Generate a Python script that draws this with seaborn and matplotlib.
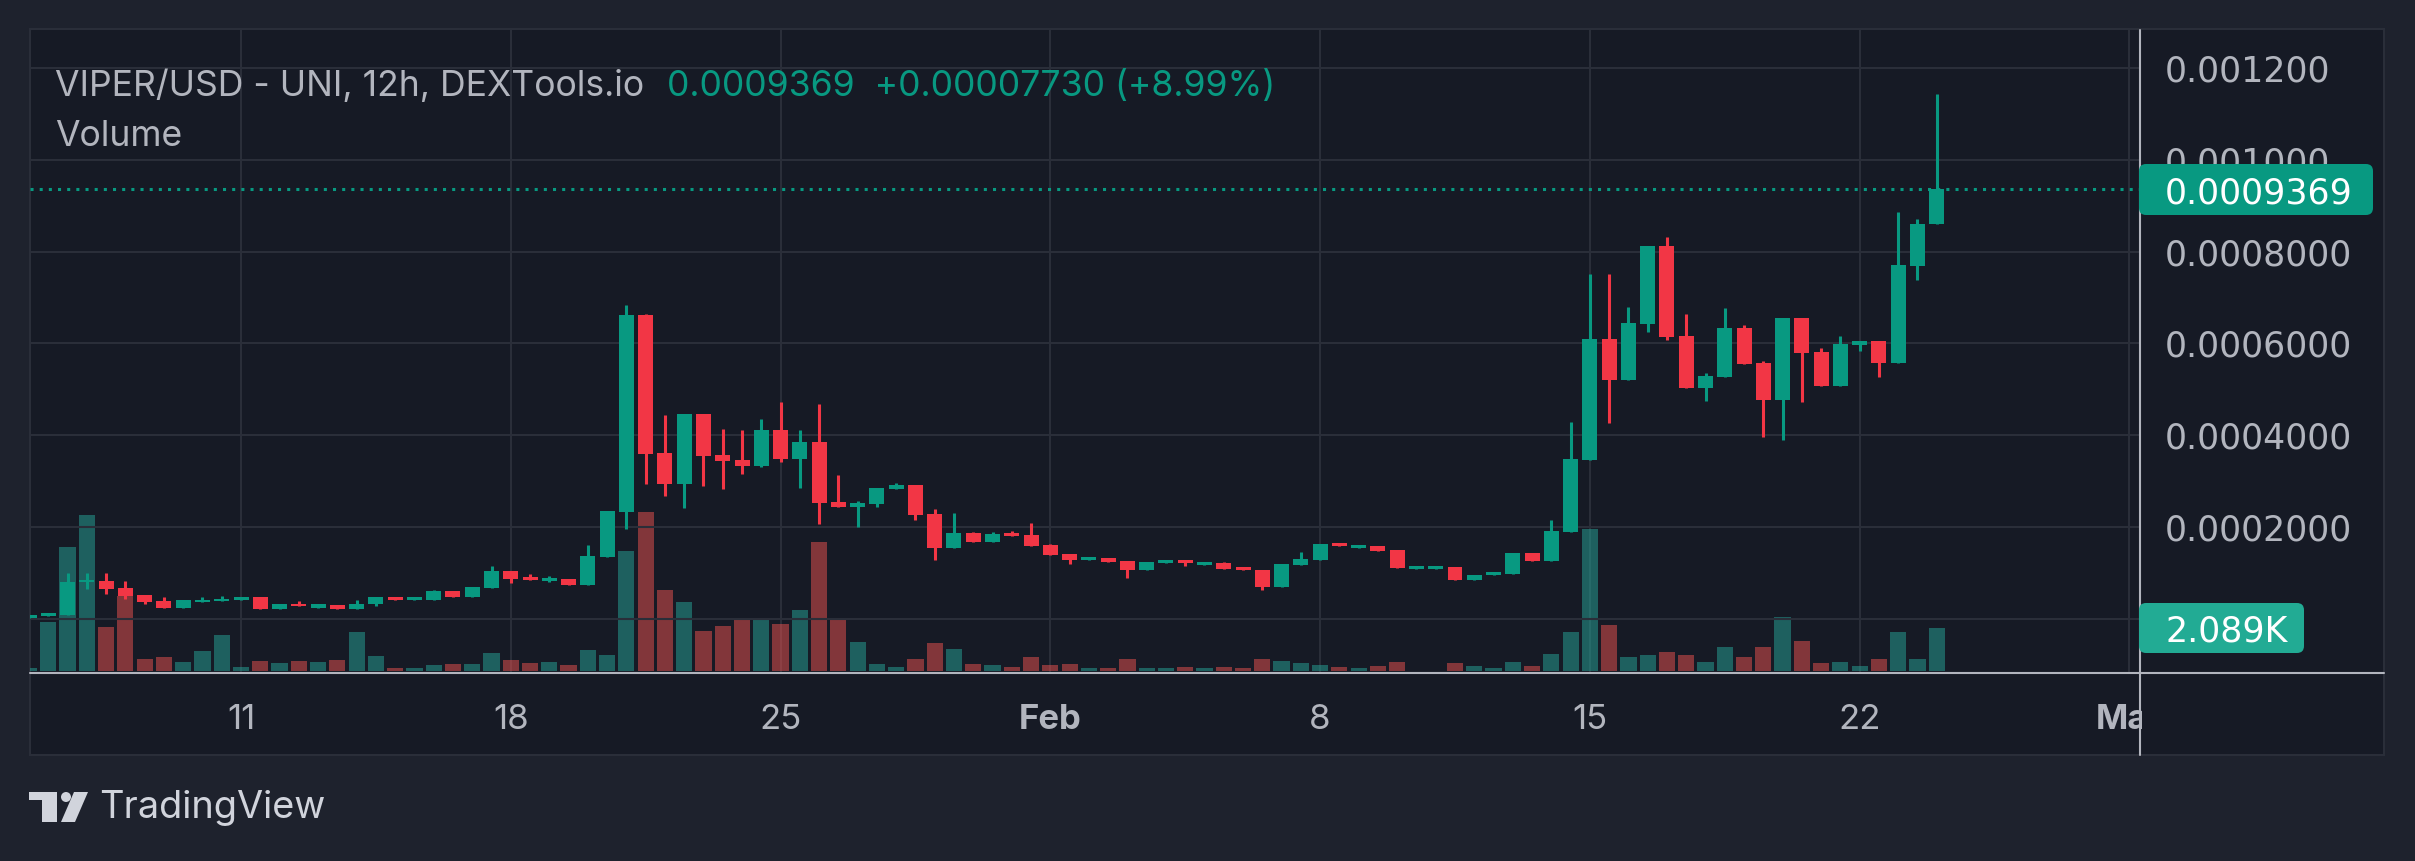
import numpy as np
import pandas as pd
import matplotlib
matplotlib.use("Agg")
import matplotlib.pyplot as plt
import matplotlib.dates as mdates
from matplotlib.patches import Rectangle, FancyBboxPatch, Polygon, Circle
from matplotlib.lines import Line2D
from matplotlib.transforms import IdentityTransform
import seaborn as sns

# ---------------- data (12h candles, VIPER/USD) ----------------
first_candle = "2021-01-05 12:00"
n_candles = 100
opens = [0.0000007, 0.0000051, 0.0000072, 0.0000797, 0.0000833, 0.0000681, 0.0000529, 0.0000377, 0.0000246, 0.0000355,
         0.0000377, 0.0000420, 0.0000464, 0.0000203, 0.0000333, 0.0000246, 0.0000290, 0.0000203, 0.0000312, 0.0000485,
         0.0000399, 0.0000420, 0.0000616, 0.0000485, 0.0000681, 0.0001051, 0.0000920, 0.0000833, 0.0000877, 0.0000746,
         0.0001355, 0.0002333, 0.0006616, 0.0003616, 0.0002942, 0.0004464, 0.0003572, 0.0003464, 0.0003333, 0.0004116,
         0.0003485, 0.0003855, 0.0002551, 0.0002442, 0.0002507, 0.0002833, 0.0002920, 0.0002290, 0.0001551, 0.0001877,
         0.0001681, 0.0001877, 0.0001833, 0.0001616, 0.0001420, 0.0001290, 0.0001333, 0.0001268, 0.0001072, 0.0001225,
         0.0001290, 0.0001181, 0.0001225, 0.0001138, 0.0001072, 0.0000703, 0.0001181, 0.0001290, 0.0001659, 0.0001551,
         0.0001594, 0.0001507, 0.0001094, 0.0001094, 0.0001138, 0.0000850, 0.0000950, 0.0000975, 0.0001433, 0.0001258,
         0.0001892, 0.0003458, 0.0006092, 0.0005200, 0.0006417, 0.0008117, 0.0006158, 0.0005025, 0.0005267, 0.0006333,
         0.0005567, 0.0004767, 0.0006550, 0.0005808, 0.0005067, 0.0005967, 0.0006050, 0.0005567, 0.0007683, 0.0008596]
highs = [0.0000072, 0.0000116, 0.0001007, 0.0001007, 0.0001007, 0.0000833, 0.0000529, 0.0000464, 0.0000399, 0.0000485,
         0.0000507, 0.0000485, 0.0000485, 0.0000312, 0.0000377, 0.0000312, 0.0000290, 0.0000399, 0.0000464, 0.0000485,
         0.0000464, 0.0000638, 0.0000616, 0.0000703, 0.0001159, 0.0001051, 0.0000985, 0.0000942, 0.0000877, 0.0001616,
         0.0002355, 0.0006833, 0.0006637, 0.0004442, 0.0004464, 0.0004464, 0.0004137, 0.0004116, 0.0004355, 0.0004724,
         0.0004116, 0.0004681, 0.0003137, 0.0002572, 0.0002855, 0.0002964, 0.0002920, 0.0002398, 0.0002311, 0.0001898,
         0.0001898, 0.0001920, 0.0002094, 0.0001638, 0.0001420, 0.0001355, 0.0001333, 0.0001268, 0.0001246, 0.0001290,
         0.0001290, 0.0001246, 0.0001246, 0.0001138, 0.0001072, 0.0001203, 0.0001464, 0.0001638, 0.0001659, 0.0001616,
         0.0001594, 0.0001507, 0.0001159, 0.0001159, 0.0001138, 0.0000950, 0.0001025, 0.0001433, 0.0001433, 0.0002150,
         0.0004283, 0.0007508, 0.0007508, 0.0006792, 0.0008117, 0.0008317, 0.0006633, 0.0005350, 0.0006767, 0.0006400,
         0.0005617, 0.0006550, 0.0006550, 0.0005900, 0.0006158, 0.0006050, 0.0006050, 0.0008858, 0.0008708, 0.0011425]
lows = [0.0000007, 0.0000051, 0.0000072, 0.0000659, 0.0000551, 0.0000442, 0.0000333, 0.0000246, 0.0000246, 0.0000355,
        0.0000377, 0.0000420, 0.0000203, 0.0000203, 0.0000268, 0.0000246, 0.0000203, 0.0000203, 0.0000268, 0.0000420,
        0.0000399, 0.0000420, 0.0000464, 0.0000485, 0.0000681, 0.0000790, 0.0000855, 0.0000812, 0.0000746, 0.0000746,
        0.0001355, 0.0001964, 0.0002942, 0.0002681, 0.0002420, 0.0002898, 0.0002833, 0.0003159, 0.0003311, 0.0003420,
        0.0002855, 0.0002072, 0.0002442, 0.0002007, 0.0002442, 0.0002833, 0.0002159, 0.0001290, 0.0001551, 0.0001681,
        0.0001681, 0.0001812, 0.0001594, 0.0001399, 0.0001203, 0.0001290, 0.0001246, 0.0000899, 0.0001072, 0.0001225,
        0.0001159, 0.0001181, 0.0001094, 0.0001072, 0.0000638, 0.0000703, 0.0001181, 0.0001290, 0.0001594, 0.0001551,
        0.0001485, 0.0001116, 0.0001094, 0.0001094, 0.0000855, 0.0000850, 0.0000950, 0.0000975, 0.0001258, 0.0001258,
        0.0001892, 0.0003458, 0.0004267, 0.0005200, 0.0006242, 0.0006075, 0.0005025, 0.0004742, 0.0005267, 0.0005550,
        0.0003958, 0.0003892, 0.0004725, 0.0005067, 0.0005067, 0.0005833, 0.0005267, 0.0005567, 0.0007375, 0.0008596]
closes = [0.0000072, 0.0000116, 0.0000812, 0.0000855, 0.0000659, 0.0000507, 0.0000355, 0.0000246, 0.0000399, 0.0000420,
          0.0000442, 0.0000485, 0.0000203, 0.0000312, 0.0000268, 0.0000312, 0.0000203, 0.0000333, 0.0000464, 0.0000420,
          0.0000464, 0.0000616, 0.0000485, 0.0000703, 0.0001051, 0.0000877, 0.0000855, 0.0000899, 0.0000746, 0.0001377,
          0.0002355, 0.0006616, 0.0003594, 0.0002942, 0.0004464, 0.0003551, 0.0003442, 0.0003333, 0.0004116, 0.0003485,
          0.0003855, 0.0002529, 0.0002442, 0.0002529, 0.0002855, 0.0002920, 0.0002268, 0.0001551, 0.0001877, 0.0001681,
          0.0001855, 0.0001812, 0.0001594, 0.0001399, 0.0001290, 0.0001355, 0.0001246, 0.0001072, 0.0001246, 0.0001290,
          0.0001225, 0.0001246, 0.0001094, 0.0001072, 0.0000703, 0.0001203, 0.0001312, 0.0001638, 0.0001594, 0.0001616,
          0.0001485, 0.0001116, 0.0001159, 0.0001159, 0.0000855, 0.0000950, 0.0001025, 0.0001433, 0.0001258, 0.0001908,
          0.0003483, 0.0006092, 0.0005200, 0.0006442, 0.0008117, 0.0006133, 0.0005025, 0.0005283, 0.0006333, 0.0005550,
          0.0004767, 0.0006550, 0.0005792, 0.0005067, 0.0005983, 0.0006050, 0.0005567, 0.0007708, 0.0008596, 0.0009369]
volumes = [146, 2381, 6026, 7582, 2138, 3645, 583, 680, 437, 972,
           1750, 194, 486, 389, 486, 437, 535, 1895, 729, 146,
           146, 292, 340, 340, 875, 535, 389, 437, 292, 1021,
           778, 5832, 7727, 3937, 3353, 1944, 2187, 2576, 2479, 2284,
           2965, 6269, 2527, 1409, 340, 194, 583, 1361, 1069, 340,
           292, 194, 680, 292, 340, 146, 146, 583, 146, 146,
           194, 146, 194, 146, 583, 486, 389, 292, 194, 146,
           243, 437, 0, 0, 389, 223, 167, 446, 223, 837,
           1897, 6919, 2251, 688, 781, 930, 781, 446, 1172, 688,
           1172, 2641, 1469, 391, 446, 223, 595, 1897, 595, 2089]

price_ticks = [0.0002, 0.0004, 0.0006, 0.0008, 0.0010, 0.0012]
price_labels = ["0.0002000", "0.0004000", "0.0006000", "0.0008000", "0.001000", "0.001200"]
grid_prices = [0.0, 0.0002, 0.0004, 0.0006, 0.0008, 0.0010, 0.0012]
date_ticks = ["2021-01-11", "2021-01-18", "2021-01-25", "2021-02-01", "2021-02-08", "2021-02-15", "2021-02-22", "2021-03-01"]
date_labels = ["11", "18", "25", "Feb", "8", "15", "22", "Mar"]
title = "VIPER/USD - UNI, 12h, DEXTools.io"
quote = "0.0009369  +0.00007730 (+8.99%)"
last_price_label = "0.0009369"
last_volume_label = "2.089K"

# ---------------- style ----------------
W, H = 2415, 861
BG = "#1e222d"
PANEL = "#161a25"
GRID = "#2a2e39"
TXT = "#b2b5be"
AXL = "#b2b5be"
UP = "#089981"
DN = "#f23645"
VUP = "#26a69a"
VDN = "#ef5350"
FS = 25
FS_TITLE = 25.6

sns.set_theme(style="dark", rc={"axes.facecolor": PANEL, "figure.facecolor": BG,
                                "axes.edgecolor": PANEL, "grid.color": GRID,
                                "text.color": TXT, "xtick.color": TXT, "ytick.color": TXT})
plt.rcParams["font.family"] = ["Inter", "DejaVu Sans"]


def fx(x):
    return x / W


def fy(y):
    return 1 - y / H


o = np.array(opens)
h = np.array(highs)
l = np.array(lows)
c = np.array(closes)
dates = pd.date_range(first_candle, periods=n_candles, freq="12h")
t = mdates.date2num(dates.to_pydatetime())
up = c >= o
df = pd.DataFrame({"t": t, "vol": volumes, "dir": np.where(up, "up", "down")})

fig = plt.figure(figsize=(W / 100, H / 100), dpi=100, facecolor=BG)
fig.add_artist(Rectangle((fx(30), fy(755)), fx(2384) - fx(30), fy(29) - fy(755),
                         transform=fig.transFigure, fc=PANEL, ec=GRID, lw=1.5, zorder=-10))

L, R, T, B = 30, 2139, 30, 673
ax_vol = fig.add_axes([fx(L), fy(B), (R - L) / W, (B - T) / H])
ax_vol.patch.set_visible(False)

sns.barplot(data=df, x="t", y="vol", hue="dir", palette={"up": VUP, "down": VDN},
            native_scale=True, dodge=False, width=0.84, errorbar=None, saturation=1,
            alpha=0.5, legend=False, linewidth=0, ax=ax_vol)
ax_vol.set_xlabel("")
ax_vol.set_ylabel("")
ax_vol.set_yticks([])

ax = ax_vol.twinx()
ax.patch.set_visible(False)

cols = np.where(up, UP, DN)
ax.vlines(t, l, h, colors=cols, linewidth=2.2, zorder=2)
body_h = np.maximum(np.abs(c - o), 0.0000035)
ax.bar(t, body_h, bottom=np.minimum(o, c), width=15 / 38.54, color=cols, linewidth=0, zorder=3)
ax.axhline(c[-1], color=UP, lw=2.2, linestyle=(0, (1, 2)), zorder=1)

# scales
t_jan11 = mdates.date2num(pd.Timestamp(date_ticks[0]).to_pydatetime())
ax_vol.set_xlim(t_jan11 - 5.475, t_jan11 + 49.248)
ax.set_ylim(-0.0001181, 0.0012828)
ax_vol.set_ylim(-97, 31153)

# grid
tick_pos = mdates.date2num([pd.Timestamp(d).to_pydatetime() for d in date_ticks])
ax_vol.set_xticks(tick_pos, labels=date_labels)
ax_vol.grid(axis="x", color=GRID, lw=1.5)
ax_vol.grid(axis="y", visible=False)
for gp in grid_prices:
    ax.axhline(gp, color=GRID, lw=1.5, zorder=0)
ax.grid(False)

ax.set_yticks(price_ticks, labels=price_labels)
ax.tick_params(axis="y", right=True, left=False, length=0, pad=18.5, labelsize=FS, labelcolor=TXT)
for lbl in ax.get_yticklabels():
    lbl.set_fontfamily(["DejaVu Sans"])
ax_vol.tick_params(axis="x", length=0, pad=22, labelsize=FS, labelcolor=TXT)
for lbl in ax_vol.get_xticklabels():
    if lbl.get_text() in ("Feb", "Mar"):
        lbl.set_fontweight("bold")
for a in (ax, ax_vol):
    for s in a.spines.values():
        s.set_visible(False)

# price scale panel cover (clips "Mar"), separators
fig.add_artist(Rectangle((fx(2142), fy(754)), fx(2383) - fx(2142), fy(675) - fy(754),
                         transform=fig.transFigure, fc=PANEL, ec="none", zorder=4))
fig.add_artist(Line2D([fx(2140), fx(2140)], [fy(30), fy(755)], color=AXL, lw=1.5, zorder=6))
fig.add_artist(Line2D([fx(30), fx(2384)], [fy(673), fy(673)], color=AXL, lw=1.5, zorder=6))

# tags
ident = IdentityTransform()
fig.add_artist(FancyBboxPatch((2139, H - 215), 234, 51, boxstyle="round,pad=0,rounding_size=7",
                              transform=ident, fc=UP, ec="none", zorder=7))
fig.text(fx(2165), fy(190), last_price_label, color="white", fontsize=FS, va="center_baseline",
         family=["DejaVu Sans"], zorder=8)
fig.add_artist(FancyBboxPatch((2139, H - 653), 165, 50, boxstyle="round,pad=0,rounding_size=7",
                              transform=ident, fc="#22ab94", ec="none", zorder=7))
fig.text(fx(2165), fy(628), last_volume_label, color="white", fontsize=FS, va="center_baseline",
         family=["DejaVu Sans"], zorder=8)

# legend texts
fig.text(fx(55), fy(96), title, color=TXT, fontsize=FS_TITLE, va="baseline")
fig.text(fx(667), fy(96), quote, color=UP, fontsize=FS_TITLE, va="baseline")
fig.text(fx(55), fy(146), "Volume", color=TXT, fontsize=FS_TITLE, va="baseline")

# TradingView logo
LOGO = "#d1d4dc"
fig.add_artist(Rectangle((29, H - 800), 28, 8, transform=ident, fc=LOGO, ec="none"))
fig.add_artist(Rectangle((42, H - 822), 15, 30, transform=ident, fc=LOGO, ec="none"))
fig.add_artist(Circle((66, H - 797), 5, transform=ident, fc=LOGO, ec="none"))
fig.add_artist(Polygon([(74, H - 792), (88, H - 792), (75, H - 822), (61, H - 822)],
                       closed=True, transform=ident, fc=LOGO, ec="none"))
fig.text(fx(99), fy(818), "TradingView", color=LOGO, fontsize=27.3, va="baseline")

fig.savefig("out.png", dpi=100, facecolor=BG)
